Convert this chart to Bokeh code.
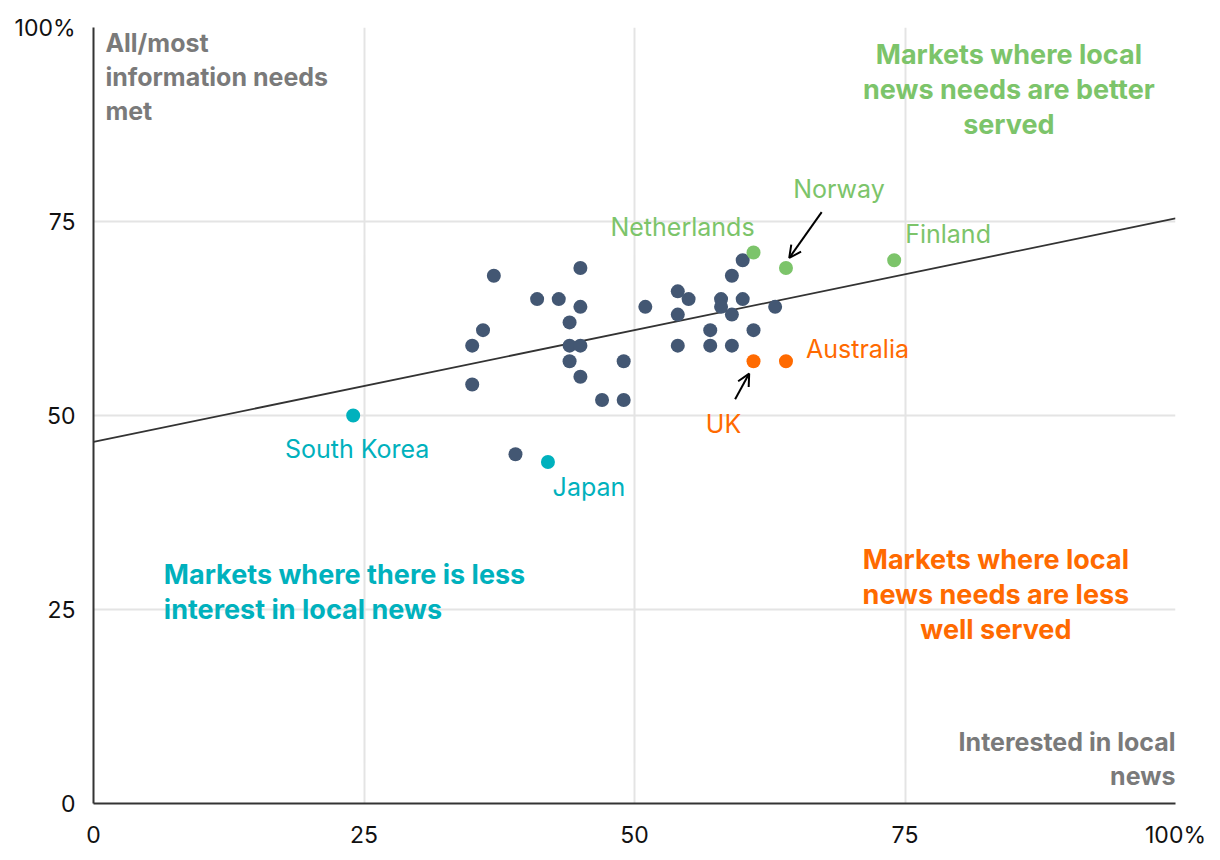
from bokeh.plotting import figure
from bokeh.models import FixedTicker, Range1d, Arrow, OpenHead, ColumnDataSource
from bokeh.core.properties import value
from bokeh.embed import file_html
from bokeh.resources import INLINE

FONT = "Inter"

# ---- data ----
other_x = [37, 41, 43, 45, 45, 44, 36, 35, 44, 45, 44, 45, 35, 49, 47, 49, 39,
           51, 54, 55, 54, 54, 57, 57, 58, 58, 59, 59, 59, 60, 60, 61, 63]
other_y = [68, 65, 65, 69, 64, 62, 61, 59, 59, 59, 57, 55, 54, 57, 52, 52, 45,
           64, 66, 65, 63, 59, 61, 59, 65, 64, 68, 63, 59, 70, 65, 61, 64]

green_names = ["Netherlands", "Norway", "Finland"]
green_x = [61, 64, 74]
green_y = [71, 69, 70]

orange_names = ["UK", "Australia"]
orange_x = [61, 64]
orange_y = [57, 57]

teal_names = ["South Korea", "Japan"]
teal_x = [24, 42]
teal_y = [50, 44]

trend_x = [0, 100]
trend_y = [46.6, 75.4]

ticks = [0, 25, 50, 75, 100]

DARK = "#435773"
GREEN = "#7cc46a"
ORANGE = "#ff6a00"
TEAL = "#00b1bd"
GRAY = "#7a7a7a"

p = figure(width=1212, height=858, output_backend="svg", toolbar_location=None,
           x_range=Range1d(0, 100), y_range=Range1d(0, 100),
           min_border_left=93, min_border_right=37, min_border_top=27, min_border_bottom=55)
p.outline_line_color = None
p.background_fill_color = "white"
p.border_fill_color = "white"

for ax in (p.xaxis, p.yaxis):
    ax.ticker = FixedTicker(ticks=ticks)
    ax.major_label_overrides = {100: "100%"}
    ax.major_tick_line_color = None
    ax.minor_tick_line_color = None
    ax.axis_line_color = "#333333"
    ax.axis_line_width = 2
    ax.major_label_text_font = FONT
    ax.major_label_text_font_size = "23px"
    ax.major_label_text_color = "#111111"
p.xaxis.major_label_standoff = 11
p.yaxis.major_label_standoff = 12

p.xgrid.ticker = FixedTicker(ticks=ticks)
p.ygrid.ticker = FixedTicker(ticks=ticks)
for g in (p.xgrid, p.ygrid):
    g.grid_line_color = "#e4e4e4"
    g.grid_line_width = 2

# trend line
p.line(trend_x, trend_y, line_color="#333333", line_width=1.8)

# points
p.scatter(other_x, other_y, size=14, fill_color=DARK, line_color=None)
p.scatter(green_x, green_y, size=14, fill_color=GREEN, line_color=None)
p.scatter(orange_x, orange_y, size=14, fill_color=ORANGE, line_color=None)
p.scatter(teal_x, teal_y, size=14, fill_color=TEAL, line_color=None)

# point labels (offsets in screen px from the points)
def labels(xs, ys, names, color, xo, yo, align):
    src = ColumnDataSource(dict(x=xs, y=ys, t=names, xo=xo, yo=yo, al=align))
    p.text(x="x", y="y", text="t", source=src, x_offset="xo", y_offset="yo",
           text_align="al", text_baseline="middle", text_color=color,
           text_font=value(FONT), text_font_size="25px")

labels(green_x, green_y, green_names, GREEN, [-71, 53, 11], [-26, -79, -26],
       ["center", "center", "left"])
labels(orange_x, orange_y, orange_names, ORANGE, [-30, 20], [63, -12],
       ["center", "left"])
labels(teal_x, teal_y, teal_names, TEAL, [4, 41], [33, 25], ["center", "center"])

# arrows
p.add_layout(Arrow(x_start=67.3, y_start=76.2, x_end=64.3, y_end=70.3,
                   line_color="black", line_width=2,
                   end=OpenHead(size=12, line_width=2, line_color="black")))
p.add_layout(Arrow(x_start=59.3, y_start=52.1, x_end=60.6, y_end=55.4,
                   line_color="black", line_width=2,
                   end=OpenHead(size=12, line_width=2, line_color="black")))

# quadrant / axis annotations
def note(x, y, txt, color, align, size="27px", lh=1.06):
    p.text(x=[x], y=[y], text=[txt], text_align=align, text_baseline="top",
           text_color=color, text_font=value(FONT), text_font_style="bold",
           text_font_size=size, text_line_height=lh)

note(1.1, 100.0, "All/most\ninformation needs\nmet", GRAY, "left", "25px", 1.14)
note(84.6, 98.6, "Markets where local\nnews needs are better\nserved", GREEN, "center")
note(6.5, 31.6, "Markets where there is less\ninterest in local news", TEAL, "left")
note(83.4, 33.6, "Markets where local\nnews needs are less\nwell served", ORANGE, "center")
note(100, 9.9, "Interested in local\nnews", GRAY, "right", "25px", 1.14)

open("out.html", "w").write(file_html(p, INLINE))
